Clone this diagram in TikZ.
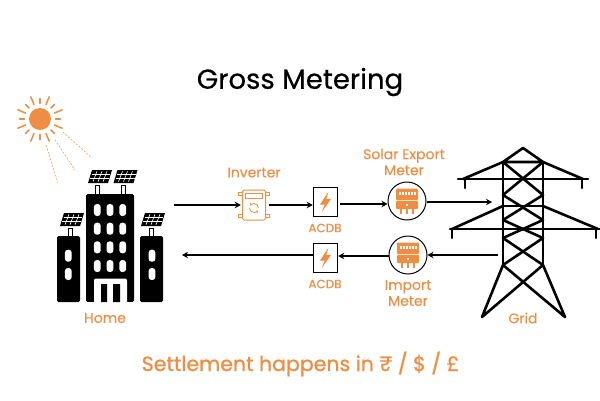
\documentclass[tikz,border=0pt]{standalone}
\usepackage{fontspec}
\setmainfont{Poppins}
\newfontfamily\medfont[FakeBold=0.5]{Poppins}
\newfontfamily\setfont[FakeBold=1.1]{Poppins}
\newfontfamily\lblfont[FakeBold=0.25]{Poppins}
\usetikzlibrary{arrows.meta}
\definecolor{org}{HTML}{EE8E45}
\tikzset{
 flow/.style={line width=1.5pt,-{Stealth[length=6pt,width=6.5pt]}},
 lbl/.style={text=org,font=\lblfont\fontsize{14}{16}\selectfont,align=center,inner sep=0pt},
 sml/.style={text=org,font=\lblfont\fontsize{12}{14}\selectfont,inner sep=0pt},
 bld/.style={fill=black,rounded corners=1.5pt,draw=none},
 win/.style={fill=white,rounded corners=3pt,draw=none},
 tw/.style={line width=2.6pt,line cap=round,line join=round},
 ray/.style={org,line width=1.5pt,line cap=round},
 dray/.style={org,line width=.5pt,dashed,dash pattern=on 2pt off 1.5pt},
 acdb/.style={draw=black,line width=1pt,fill=white,minimum width=24.5pt,minimum height=29.5pt,inner sep=0pt},
 mtr/.style={draw=black,line width=1pt,fill=white,circle,minimum size=38pt,inner sep=0pt},
}
\newcommand{\panelat}[2]{%
 \begin{scope}[shift={(#1,#2)}]
 \fill[black] (-10.5,6.5)--(9.5,6.5)--(13.5,-6.5)--(-6.5,-6.5)--cycle;
 \foreach \t in {0.25,0.5,0.75}{
  \draw[white,line width=.6pt] ({-10.5+20*\t},5.2)--({-6.5+20*\t},-5.2);}
 \draw[white,line width=.6pt] (-8.2,2)--(10.6,2) (-7,-2)--(11.8,-2);
 \end{scope}}
\newcommand{\boltat}[2]{%
 \fill[org,shift={(#1,#2)}] (3,-10.5)--(-5.5,2.5)--(-.8,2.5)--(-4,10.5)--(5.5,-3)--(.8,-3)--cycle;}
\newcommand{\meterat}[2]{%
 \begin{scope}[shift={(#1,#2)}]
 \fill[org,rounded corners=1pt] (-11,-12.5) rectangle (11,-1);
 \fill[org,rounded corners=1pt] (-11,-.2) rectangle (11,8);
 \foreach \x in {-8,-5,-2,1,4,7}{\fill[white] (\x,-9.5) rectangle ++(1.8,3);}
 \fill[white] (-1,3) rectangle (1,5);
 \foreach \x in {-6,0,6}{\draw[org,line width=1.3pt] (\x,8)--(\x,13);}
 \end{scope}}
\begin{document}
\begin{tikzpicture}[x=1pt,y=-1pt]
\useasboundingbox (0,0) rectangle (600,400);
\fill[white] (0,0) rectangle (600,400);
% titles
\node[inner sep=0pt,font=\medfont\fontsize{27.5}{32}\selectfont] (title) at (300,82) {Gross Metering};
\node[inner sep=0pt,text=org,font=\setfont\fontsize{20.5}{25}\selectfont] (settle) at (300.5,364) {Settlement happens in ₹ / \$ / £};
% sun
\fill[org] (40,119) circle (11);
\foreach \a in {0,45,...,315}{\draw[ray] (40,119)++(\a:15.5)--++(\a:5);}
\foreach \a in {22.5,67.5,...,360}{\draw[ray] (40,119)++(\a:15.5)--++(\a:8.5);}
\coordinate (d1a) at (63,132); \coordinate (d1b) at (92,158);
\coordinate (d2a) at (55,140); \coordinate (d2b) at (75,170);
\coordinate (d3a) at (46,145); \coordinate (d3b) at (58,183);
\draw[dray] (d1a)--(d1b); \draw[dray] (d2a)--(d2b); \draw[dray] (d3a)--(d3b);
% buildings
\draw[black,line width=1pt,fill=white] (95,185) rectangle (99,195) (121,185) rectangle (125,195) (68,228) rectangle (72,237) (149,228) rectangle (153,237);
\fill[bld] (86,194) rectangle (134,302);
\fill[bld] (57,236) rectangle (80,302);
\fill[bld] (140,236) rectangle (163,302);
\foreach \y in {210,228.7,247.3,266}{\foreach \x in {97.3,110,122.7}{
 \fill[win] (\x-3.4,\y-6) rectangle (\x+3.4,\y+6);}}
\foreach \y in {255.7,274}{\foreach \x in {68.3,152}{
 \fill[win] (\x-3.4,\y-6) rectangle (\x+3.4,\y+6);}}
\fill[white,rounded corners=2pt] (94,278.5) rectangle (127,310);
\fill[white] (80,302) rectangle (140,312);
\fill[black] (101,284) rectangle (107,302) (113,284) rectangle (120,302);
\panelat{98.5}{176.5}\panelat{124}{176.5}\panelat{70.5}{219.5}\panelat{151.5}{219.5}
% inverter
\begin{scope}[org,line width=1pt]
\draw[rounded corners=1.5pt] (242.5,190) rectangle (265.5,220);
\draw (245.5,193) rectangle (262.5,198);
\foreach \x/\y in {240.5/194,267.5/194,240.5/216,267.5/216}{\draw (\x-1.7,\y-1.7) rectangle (\x+1.7,\y+1.7);}
\draw[-{Stealth[length=2.5pt,width=2.5pt]},line width=.8pt] (258.5,208) arc (0:-150:4.5);
\draw[-{Stealth[length=2.5pt,width=2.5pt]},line width=.8pt] (249.5,208) arc (180:30:4.5);
\end{scope}
\node[inner sep=0pt,minimum width=26pt,minimum height=32pt] (inv) at (254,205) {};
% ACDB boxes
\node[acdb] (ac1) at (325.5,202) {};
\node[acdb] (ac2) at (325.5,258) {};
\boltat{325.5}{202}\boltat{325.5}{258}
% meters
\node[mtr] (m1) at (407,201) {};
\node[mtr] (m2) at (408,255) {};
\meterat{407}{201}\meterat{408}{255}
% tower
\begin{scope}[tw]
\draw (503,162)--(523,148)--(543,162)--cycle;
\draw (503,162)--(503,265) (543,162)--(543,265);
\draw (458,179)--(588,179);
\draw (503,162)--(463,179) (543,162)--(583,179);
\draw (465,179)--(465,188) (582,179)--(582,188);
\draw (503,206)--(543,206);
\draw (450,229)--(600,229);
\draw (503,206)--(452,229) (543,206)--(598,229);
\draw (452,229)--(452,238) (596,229)--(596,238);
\draw (503,162)--(543,195)--(503,220)--(543,238)--(503,265);
\draw (543,162)--(503,195)--(543,220)--(503,238)--(543,265);
\draw (503,265)--(565,317)--(543,265) (543,265)--(482,317)--(503,265);
\end{scope}
\coordinate (home) at (174,205);
\coordinate (homeb) at (182,255);
\coordinate (g1) at (492,202);
\coordinate (g2) at (498,255);
% arrows
\draw[flow] (home)--(inv.west|-home);
\draw[flow] (269,205)--(ac1.west|-0,205);
\draw[flow] (340,204)--(m1.west|-0,204);
\draw[flow] (m1.east|-g1)--(g1);
\draw[flow] (g2)--(m2.east|-g2);
\draw[flow] (m2.west|-0,256)--(ac2.east|-0,256);
\draw[flow] (ac2.west|-homeb)--(homeb);
% labels
\node[lbl] (l1) at (254,172.5) {Inverter};
\node[lbl] (l2) at (404,162) {Solar Export\\Meter};
\node[sml] (l3) at (325,228) {ACDB};
\node[sml] (l4) at (325,284) {ACDB};
\node[lbl] (l5) at (408,293) {Import\\Meter};
\node[lbl] (l6) at (105,318) {Home};
\node[lbl] (l7) at (523,318) {Grid};
\end{tikzpicture}
\end{document}
